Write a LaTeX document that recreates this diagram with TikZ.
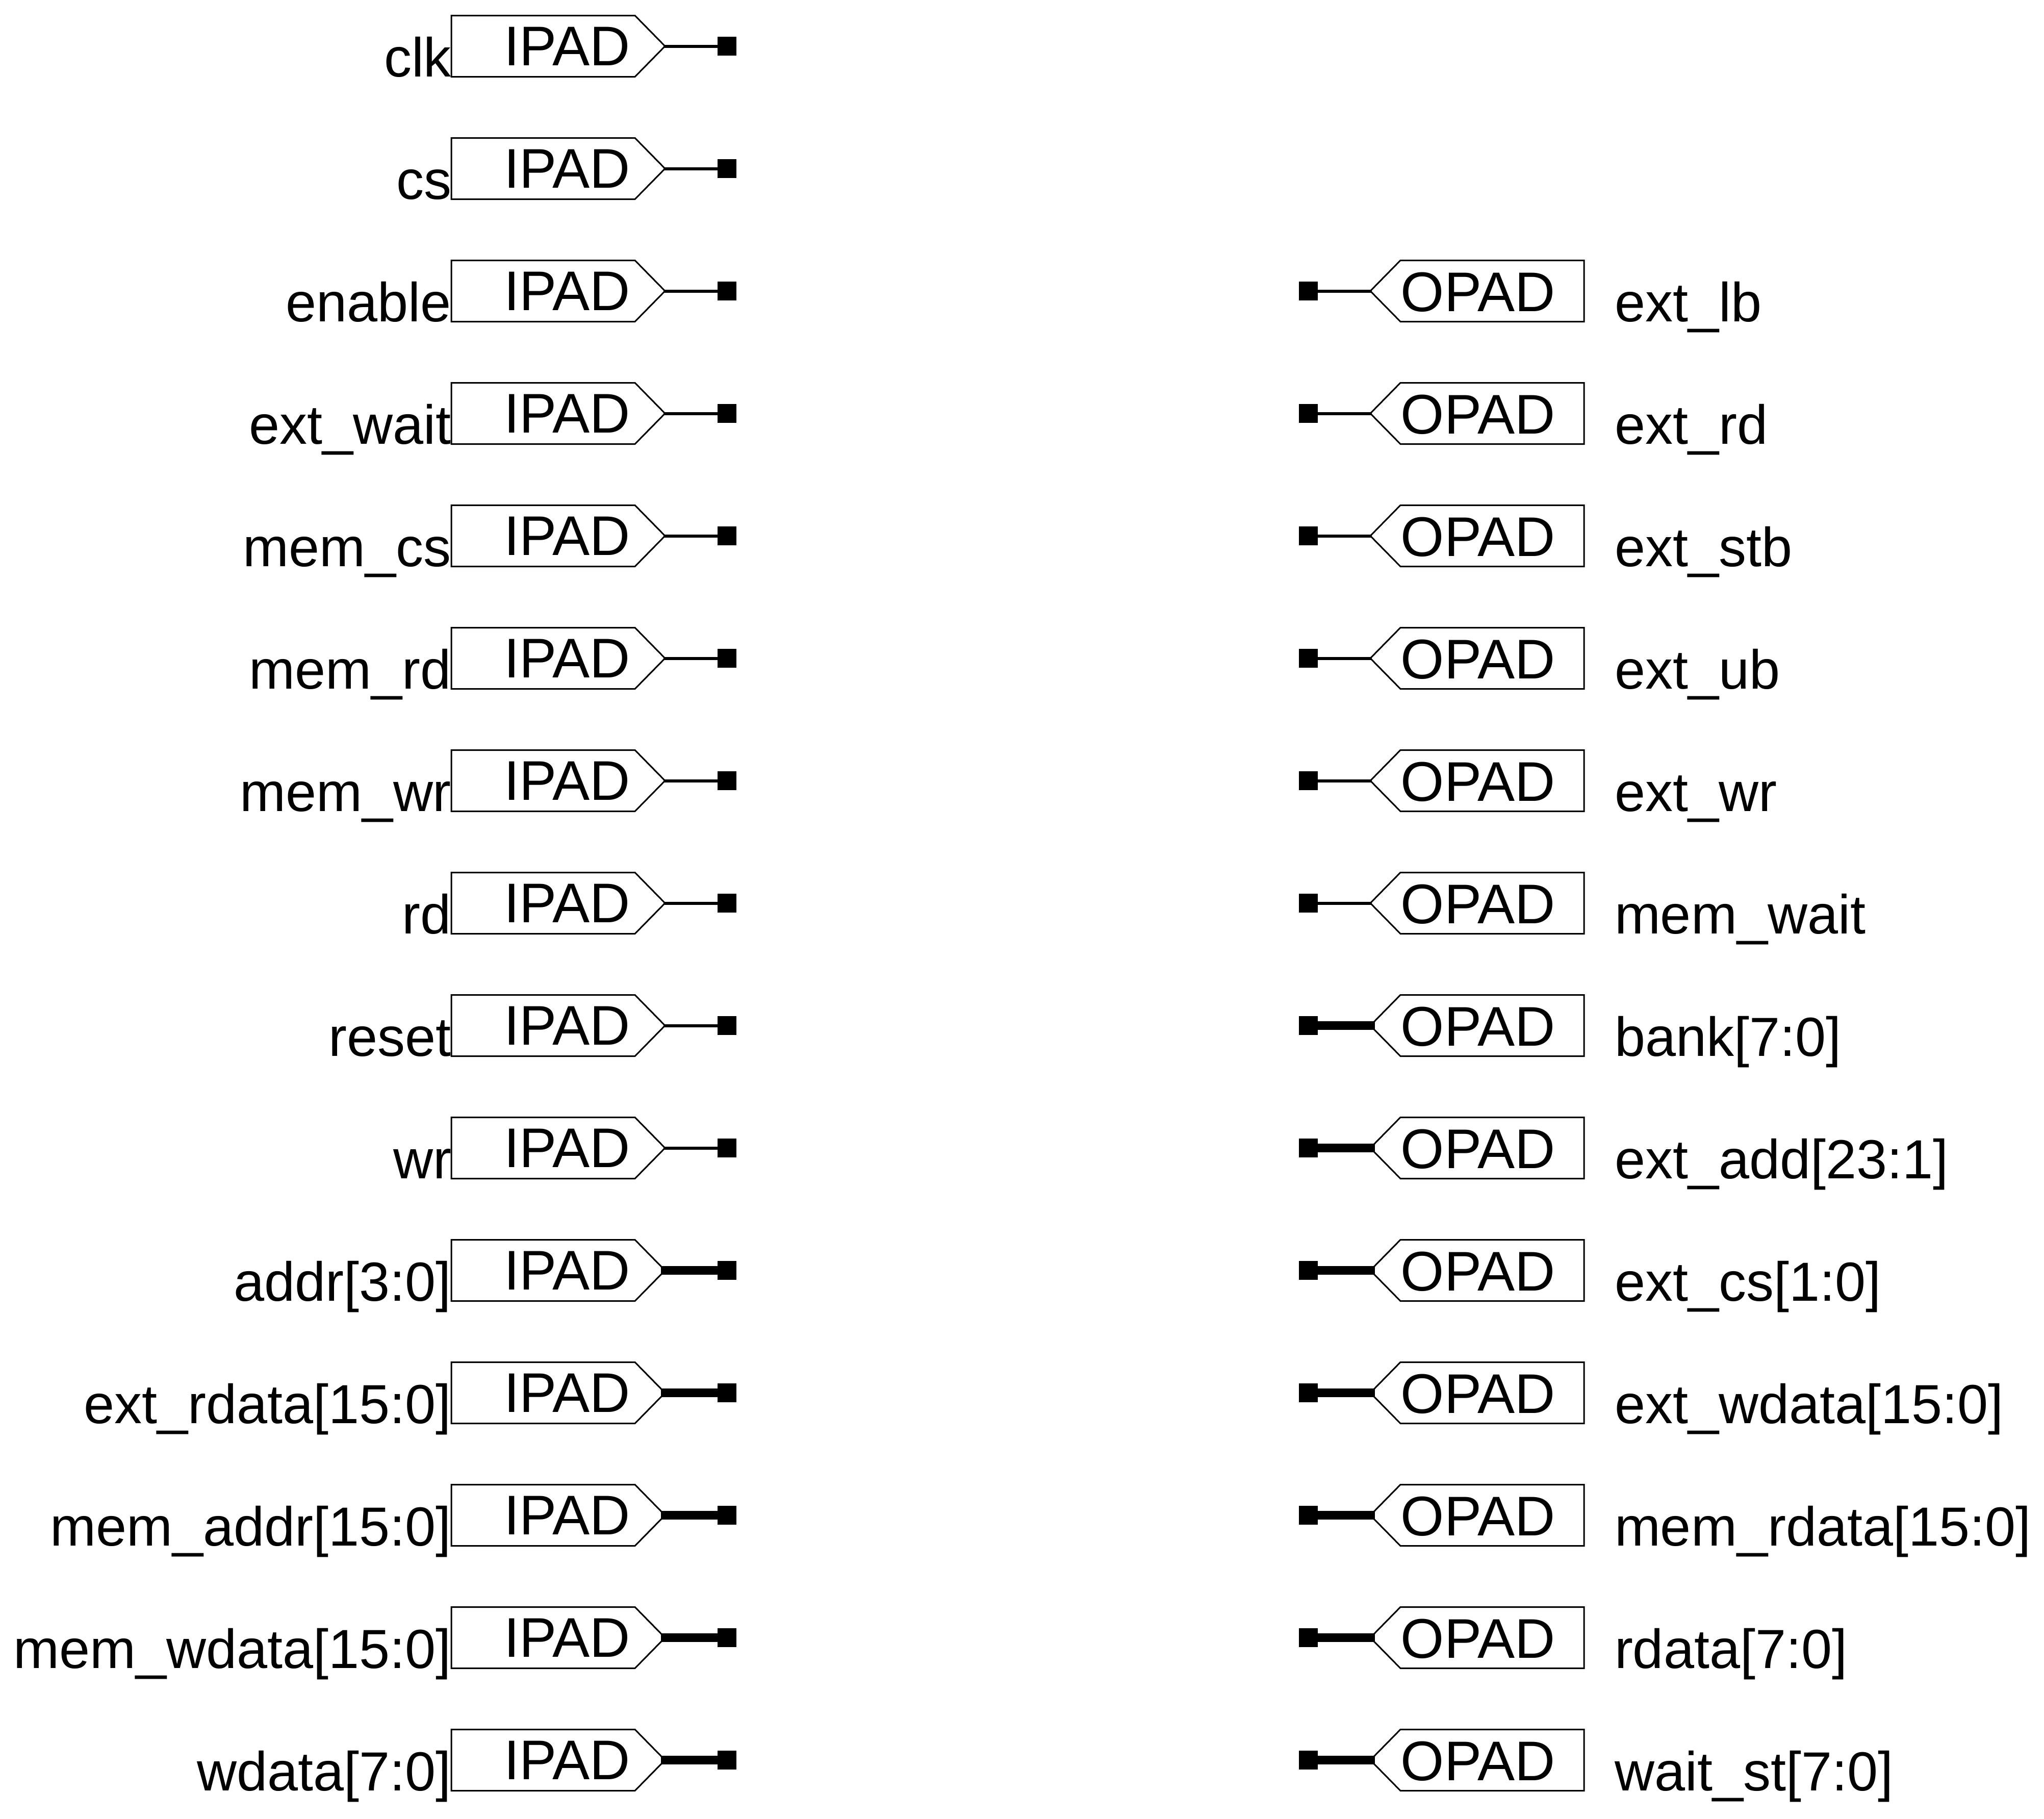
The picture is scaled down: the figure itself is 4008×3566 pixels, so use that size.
\documentclass[tikz,border=0pt]{standalone}
\usepackage{fontspec}
\setmainfont{Liberation Sans}
\usetikzlibrary{positioning,shapes.symbols}
\tikzset{
    padbox/.style={
        signal,
        draw=black, line width=0.75pt,
        signal pointer angle=91,
        minimum width=104.75pt,
        minimum height=30pt,
        inner sep=0pt,
        outer sep=0pt,
        text depth=0pt,
        font=\fontsize{27.4pt}{30pt}\selectfont
    },
    ipad/.style={padbox, signal to=east, anchor=west, text height=19pt},
    opad/.style={padbox, signal to=west, anchor=east, text height=20pt},
    pinsq/.style={fill=black, inner sep=0pt, outer sep=0pt, minimum size=9.25pt},
    signame/.style={inner sep=0pt, outer sep=0pt, font=\fontsize{27pt}{30pt}\selectfont},
    onebit/.style={draw, line cap=rect, line width=1.5pt},
    wide/.style={draw, line cap=rect, line width=4.25pt}
}
\begin{document}
\begin{tikzpicture}[x=0.25pt,y=-0.25pt]
\useasboundingbox (0,0) rectangle (4008,3566);
% input side
\foreach \row/\sig/\wire in {0/clk/onebit,1/cs/onebit,2/enable/onebit,3/ext\_wait/onebit,
        4/mem\_cs/onebit,5/mem\_rd/onebit,6/mem\_wr/onebit,7/rd/onebit,8/reset/onebit,9/wr/onebit,
        10/addr[3:0]/wide,11/ext\_rdata[15:0]/wide,12/mem\_addr[15:0]/wide,
        13/mem\_wdata[15:0]/wide,14/wdata[7:0]/wide}{
    \node[ipad] (ipad\row) at (885,90.5+240*\row) {\hspace*{23.5pt}IPAD};
    \node[pinsq] (isq\row) at (1425.5,90.5+240*\row) {};
    \node[signame, anchor=base east] (iname\row) at (ipad\row.south west) {\sig};
    \draw[\wire] (ipad\row.east) -- (isq\row);
}
% output side
\foreach \row/\sig/\wire in {2/ext\_lb/onebit,3/ext\_rd/onebit,4/ext\_stb/onebit,5/ext\_ub/onebit,
        6/ext\_wr/onebit,7/mem\_wait/onebit,8/bank[7:0]/wide,9/ext\_add[23:1]/wide,
        10/ext\_cs[1:0]/wide,11/ext\_wdata[15:0]/wide,12/mem\_rdata[15:0]/wide,
        13/rdata[7:0]/wide,14/wait\_st[7:0]/wide}{
    \node[opad] (opad\row) at (3106,90.5+240*\row) {OPAD\hspace*{14pt}};
    \node[pinsq] (osq\row) at (2565.5,90.5+240*\row) {};
    \node[signame, anchor=base west, xshift=15pt] (oname\row) at (opad\row.south east) {\sig};
    \draw[\wire] (opad\row.west) -- (osq\row);
}
\end{tikzpicture}
\end{document}
